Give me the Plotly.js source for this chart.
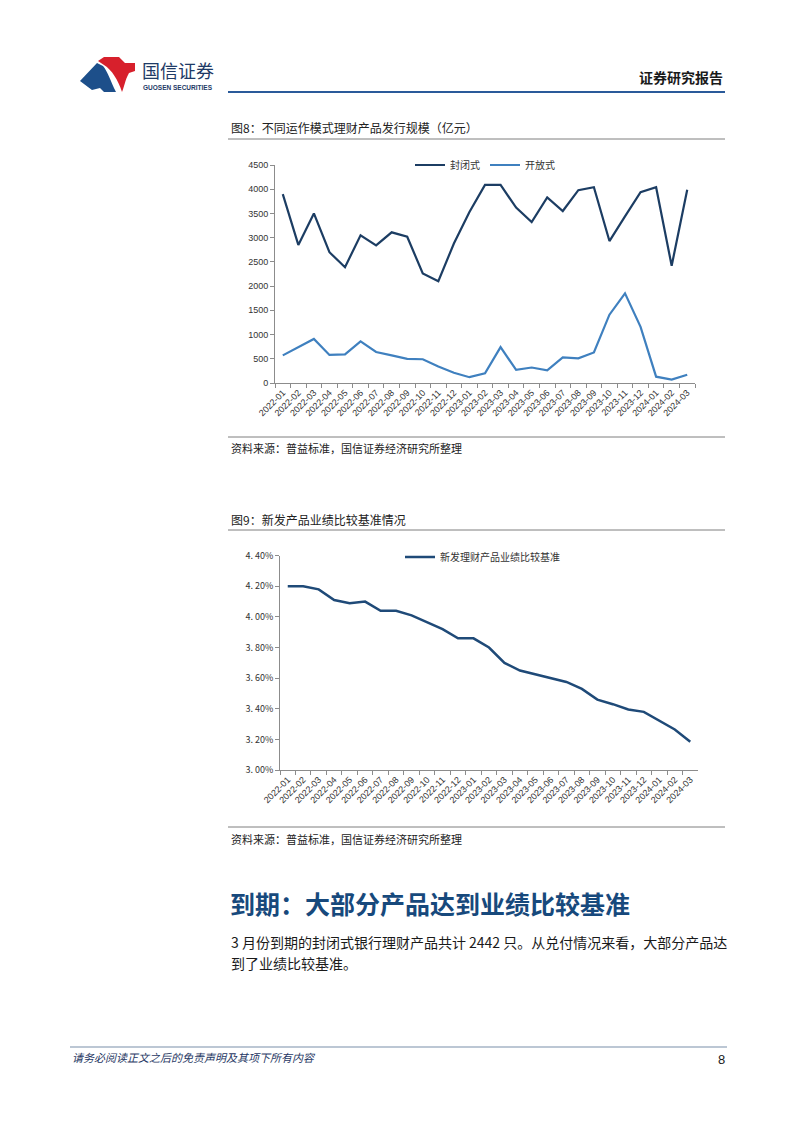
<!DOCTYPE html>
<html><head><meta charset="utf-8">
<script src="https://cdn.plot.ly/plotly-3.0.1.min.js"></script>
<style>html,body{margin:0;padding:0;background:#fff}#page{width:802px;height:1133px}</style>
</head><body><div id="page"></div>
<script>
// ---- data ----
const months = ['2022-01','2022-02','2022-03','2022-04','2022-05','2022-06','2022-07','2022-08','2022-09','2022-10','2022-11','2022-12',
  '2023-01','2023-02','2023-03','2023-04','2023-05','2023-06','2023-07','2023-08','2023-09','2023-10','2023-11','2023-12',
  '2024-01','2024-02','2024-03'];
const closedEnd = [3900,2850,3500,2700,2390,3050,2840,3110,3020,2260,2100,2880,
  3530,4090,4090,3620,3320,3830,3550,3980,4040,2930,3440,3940,4040,2420,3990];
const openEnd = [570,740,910,580,590,860,640,570,500,490,340,210,
  120,200,740,270,320,260,530,510,630,1410,1850,1160,130,70,170];
const benchmark = [4.20,4.20,4.18,4.11,4.09,4.10,4.04,4.04,4.01,3.965,3.92,3.86,
  3.86,3.80,3.70,3.65,3.625,3.60,3.575,3.53,3.46,3.43,3.395,3.38,3.325,3.265,3.185];
const yTicks1 = [0,500,1000,1500,2000,2500,3000,3500,4000,4500];
const yTicks2 = [3.0,3.2,3.4,3.6,3.8,4.0,4.2,4.4];
const yTickText2 = ['3. 00%','3. 20%','3. 40%','3. 60%','3. 80%','4. 00%','4. 20%','4. 40%'];
const seriesNames = ['封闭式','开放式','新发理财产品业绩比较基准'];

// ---- page geometry helpers ----
const W = 802, H = 1133;
const px = x => x / W;
const py = y => 1 - y / H;

const CJK = '"Noto Sans CJK SC", "Noto Sans", sans-serif';
const tickFont = {family: 'Liberation Sans, Arial, sans-serif', size: 9, color: '#333333'};
const axisGrey = '#8c8c8c';

const traces = [
  {x: months, y: closedEnd, name: seriesNames[0], type: 'scatter', mode: 'lines',
   line: {color: '#1c3d63', width: 2.2}, xaxis: 'x', yaxis: 'y', legend: 'legend'},
  {x: months, y: openEnd, name: seriesNames[1], type: 'scatter', mode: 'lines',
   line: {color: '#3f80bf', width: 2.2}, xaxis: 'x', yaxis: 'y', legend: 'legend'},
  {x: months, y: benchmark, name: seriesNames[2], type: 'scatter', mode: 'lines',
   line: {color: '#1f4a78', width: 2.5}, xaxis: 'x2', yaxis: 'y2', legend: 'legend2'}
];

function catAxis(domain, anchor) {
  return {domain: domain, anchor: anchor, type: 'category', range: [-0.5, months.length - 0.5],
    tickson: 'boundaries', ticks: 'outside', ticklen: 4, tickcolor: axisGrey, tickwidth: 1,
    showline: true, linecolor: axisGrey, linewidth: 1, showgrid: false, zeroline: false,
    tickangle: -45, tickfont: tickFont, fixedrange: true};
}

// logo paths (pixel coords)
function pathFrom(pts) {
  return pts.map((p, i) => {
    if (p[0] === 'C') return 'C' + px(p[1]) + ',' + py(p[2]) + ' ' + px(p[3]) + ',' + py(p[4]) + ' ' + px(p[5]) + ',' + py(p[6]);
    return (i === 0 ? 'M' : 'L') + px(p[0]) + ',' + py(p[1]);
  }).join(' ') + ' Z';
}
const bluePath = pathFrom([[80,81],[97,63],[103,66],['C',108,72,110,80,116,92],[104,92],[100,88],[92,90]]);
const redPath = pathFrom([[98,61],[104,57],[119,57],[125,63],[135,63],[135,71],[129,73],['C',125,80,124,88,122,92],['C',118,80,112,70,104,65]]);

function note(text, x, y, xanchor, font) {
  return {text: text, xref: 'paper', yref: 'paper', x: px(x), y: py(y), xanchor: xanchor, yanchor: 'middle',
    showarrow: false, font: font};
}

const layout = {
  width: W, height: H, margin: {l: 0, r: 0, t: 0, b: 0},
  paper_bgcolor: '#ffffff', plot_bgcolor: 'rgba(0,0,0,0)',
  font: {family: CJK, color: '#333'},
  xaxis: catAxis([px(275), px(695)], 'y'),
  yaxis: {domain: [py(383), py(165)], anchor: 'x', range: [0, 4500], tickvals: yTicks1,
    ticks: 'outside', ticklen: 4, tickcolor: axisGrey, showline: true, linecolor: axisGrey,
    showgrid: false, zeroline: false, tickfont: tickFont, fixedrange: true},
  xaxis2: catAxis([px(280), px(698)], 'y2'),
  yaxis2: {domain: [py(770), py(555.7)], anchor: 'x2', range: [3.0, 4.4], tickvals: yTicks2, ticktext: yTickText2,
    ticks: 'outside', ticklen: 4, tickcolor: axisGrey, showline: true, linecolor: axisGrey,
    showgrid: false, zeroline: false, tickfont: {family: CJK, size: 9, color: '#333333'}, fixedrange: true},
  legend: {orientation: 'h', x: px(410), y: py(165), xanchor: 'left', yanchor: 'middle',
    bgcolor: 'rgba(0,0,0,0)', font: {family: CJK, size: 10, color: '#333'}, itemwidth: 30, tracegroupgap: 0},
  legend2: {orientation: 'h', x: px(400), y: py(557), xanchor: 'left', yanchor: 'middle',
    bgcolor: 'rgba(0,0,0,0)', font: {family: CJK, size: 10, color: '#333'}, itemwidth: 30},
  showlegend: true,
  shapes: [
    {type: 'line', xref: 'paper', yref: 'paper', x0: px(228), x1: px(725), y0: py(92), y1: py(92), line: {color: '#2a5a9a', width: 2}},
    {type: 'line', xref: 'paper', yref: 'paper', x0: px(228), x1: px(725), y0: py(139), y1: py(139), line: {color: '#7f7f7f', width: 1}},
    {type: 'line', xref: 'paper', yref: 'paper', x0: px(228), x1: px(725), y0: py(437), y1: py(437), line: {color: '#7f7f7f', width: 1}},
    {type: 'line', xref: 'paper', yref: 'paper', x0: px(228), x1: px(725), y0: py(530), y1: py(530), line: {color: '#7f7f7f', width: 1}},
    {type: 'line', xref: 'paper', yref: 'paper', x0: px(228), x1: px(725), y0: py(827), y1: py(827), line: {color: '#7f7f7f', width: 1}},
    {type: 'line', xref: 'paper', yref: 'paper', x0: px(70), x1: px(727), y0: py(1047), y1: py(1047), line: {color: '#a6b4c6', width: 1.5}},
    {type: 'path', xref: 'paper', yref: 'paper', path: bluePath, fillcolor: '#1d4f8a', line: {width: 0}},
    {type: 'path', xref: 'paper', yref: 'paper', path: redPath, fillcolor: '#d7202c', line: {width: 0}}
  ],
  annotations: [
    note('国信证券', 140, 70.5, 'left', {family: CJK, size: 18, color: '#1e3a66'}),
    note('<b>GUOSEN SECURITIES</b>', 141, 88, 'left', {family: 'Liberation Sans, Arial, sans-serif', size: 6.5, color: '#1e3a66'}),
    note('<b>证券研究报告</b>', 725, 77, 'right', {family: CJK, size: 14, color: '#1a1a1a'}),
    note('图8：不同运作模式理财产品发行规模（亿元）', 229, 128, 'left', {family: CJK, size: 12, color: '#222'}),
    note('资料来源：普益标准，国信证券经济研究所整理', 229, 448, 'left', {family: CJK, size: 11, color: '#222'}),
    note('图9：新发产品业绩比较基准情况', 229, 519, 'left', {family: CJK, size: 12, color: '#222'}),
    note('资料来源：普益标准，国信证券经济研究所整理', 229, 839, 'left', {family: CJK, size: 11, color: '#222'}),
    note('<b>到期：大部分产品达到业绩比较基准</b>', 228, 903, 'left', {family: CJK, size: 25, color: '#17497c'}),
    note('3 月份到期的封闭式银行理财产品共计 2442 只。从兑付情况来看，大部分产品达', 229, 942, 'left', {family: CJK, size: 14, color: '#1a1a1a'}),
    note('到了业绩比较基准。', 229, 963, 'left', {family: CJK, size: 14, color: '#1a1a1a'}),
    note('<i>请务必阅读正文之后的免责声明及其项下所有内容</i>', 70, 1057, 'left', {family: CJK, size: 11, color: '#1f3864'}),
    note('8', 727, 1059, 'right', {family: 'Liberation Sans, Arial, sans-serif', size: 13, color: '#1a1a1a'})
  ]
};

Plotly.newPlot('page', traces, layout, {staticPlot: true, displayModeBar: false});
</script>
</body></html>
